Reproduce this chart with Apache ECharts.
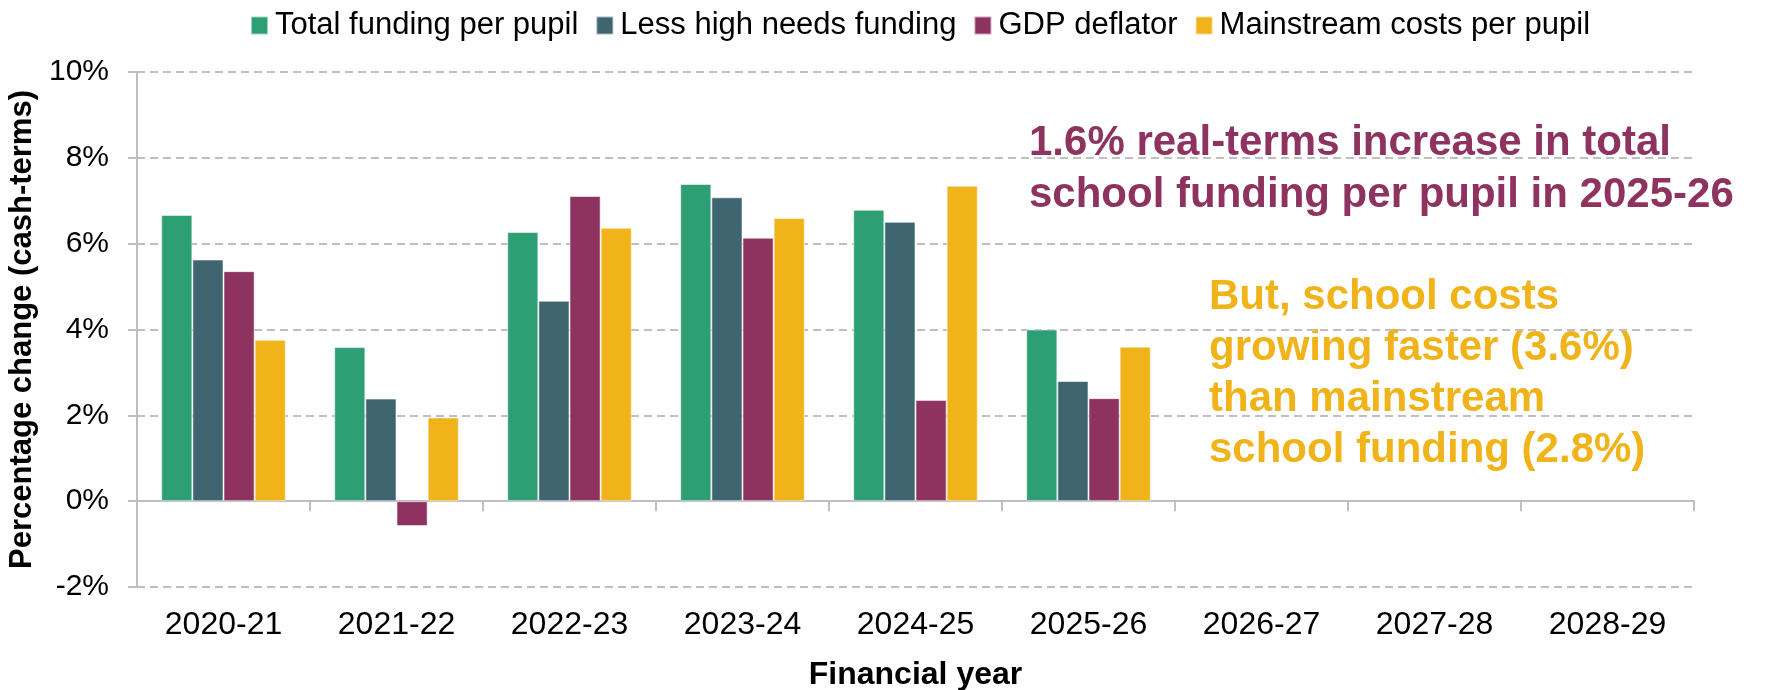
<!DOCTYPE html>
<html>
<head>
<meta charset="utf-8">
<title>School funding per pupil vs costs</title>
<script src="https://cdn.jsdelivr.net/npm/echarts@6/dist/echarts.min.js"></script>
<style>
  html, body { margin: 0; padding: 0; background: #ffffff; }
  #chart { width: 1766px; height: 690px; }
</style>
</head>
<body>
<div id="chart"></div>
<script>
// Financial years on the category axis
const years = ['2020-21', '2021-22', '2022-23', '2023-24', '2024-25', '2025-26', '2026-27', '2027-28', '2028-29'];

// Annual percentage change (cash terms)
const totalFunding   = [6.67, 3.59, 6.27, 7.39, 6.79, 4.0, null, null, null];
const lessHighNeeds  = [5.63, 2.39, 4.67, 7.08, 6.51, 2.8, null, null, null];
const gdpDeflator    = [5.36, -0.58, 7.11, 6.14, 2.36, 2.4, null, null, null];
const mainstreamCost = [3.76, 1.95, 6.37, 6.6, 7.35, 3.6, null, null, null];

const seriesNames = ['Total funding per pupil', 'Less high needs funding', 'GDP deflator', 'Mainstream costs per pupil'];
const seriesColors = ['#2e9e74', '#3f6570', '#8e3360', '#f0b41a'];

// y-axis range and step (percent)
const yMin = -2, yMax = 10, yStep = 2;

const annotationReal = '1.6% real-terms increase in total\nschool funding per pupil in 2025-26';
const annotationCosts = 'But, school costs\ngrowing faster (3.6%)\nthan mainstream\nschool funding (2.8%)';

const FONT = '"Liberation Sans", Arial, Helvetica, sans-serif';
const gridColor = '#bfbfbf';

const chart = echarts.init(document.getElementById('chart'), null, { renderer: 'canvas' });

const values = [totalFunding, lessHighNeeds, gdpDeflator, mainstreamCost];

const option = {
  backgroundColor: '#ffffff',
  animation: false,
  textStyle: { fontFamily: FONT },
  legend: {
    left: 245,
    top: 5,
    itemWidth: 17,
    itemHeight: 18,
    itemGap: 17,
    icon: 'rect',
    data: seriesNames,
    textStyle: { fontFamily: FONT, fontSize: 31, color: '#000', padding: [0, 0, 0, 2] }
  },
  grid: {
    left: 137,
    right: 72,
    top: 72,
    bottom: 103,
    outerBoundsMode: 'none'
  },
  xAxis: [
    {
      // axis line and ticks sitting on the 0% line
      type: 'category',
      data: years,
      position: 'bottom',
      axisLine: { show: true, onZero: true, lineStyle: { color: gridColor, width: 2 } },
      axisTick: { show: true, length: 10, lineStyle: { color: gridColor, width: 2 } },
      axisLabel: { show: false },
      splitLine: { show: false }
    },
    {
      // year labels and title along the bottom edge
      type: 'category',
      data: years,
      position: 'bottom',
      axisLine: { show: false, onZero: false },
      axisTick: { show: false },
      axisLabel: { show: true, margin: 22, fontSize: 32, color: '#000', fontFamily: FONT },
      name: 'Financial year',
      nameLocation: 'middle',
      nameGap: 72,
      nameTextStyle: { fontSize: 32, fontWeight: 'bold', color: '#000', fontFamily: FONT },
      splitLine: { show: false }
    }
  ],
  yAxis: {
    type: 'value',
    min: yMin,
    max: yMax,
    interval: yStep,
    axisLine: { show: true, lineStyle: { color: gridColor, width: 2 } },
    axisTick: { show: true, length: 9, lineStyle: { color: gridColor, width: 2 } },
    axisLabel: {
      formatter: '{value}%',
      margin: 28,
      fontSize: 30,
      color: '#000',
      fontFamily: FONT
    },
    splitLine: { show: true, lineStyle: { color: gridColor, width: 2, type: [8, 5] } },
    name: 'Percentage change (cash-terms)',
    nameLocation: 'middle',
    nameGap: 90,
    nameTextStyle: { fontSize: 31, fontWeight: 'bold', color: '#000', fontFamily: FONT }
  },
  series: seriesNames.map((name, i) => ({
    name: name,
    type: 'bar',
    xAxisIndex: 0,
    data: values[i],
    barGap: '0%',
    barCategoryGap: '28%',
    itemStyle: {
      color: seriesColors[i],
      borderColor: 'rgba(255,255,255,0.55)',
      borderWidth: 1
    },
    emphasis: { disabled: true }
  })),
  graphic: [
    {
      type: 'text',
      left: 1029,
      top: 117,
      style: {
        text: annotationReal,
        font: 'bold 42px ' + FONT,
        lineHeight: 52,
        fill: '#8e3360'
      }
    },
    {
      type: 'text',
      left: 1209,
      top: 272,
      style: {
        text: annotationCosts,
        font: 'bold 42px ' + FONT,
        lineHeight: 51,
        fill: '#f0b41a'
      }
    }
  ]
};

chart.setOption(option);
</script>
</body>
</html>
